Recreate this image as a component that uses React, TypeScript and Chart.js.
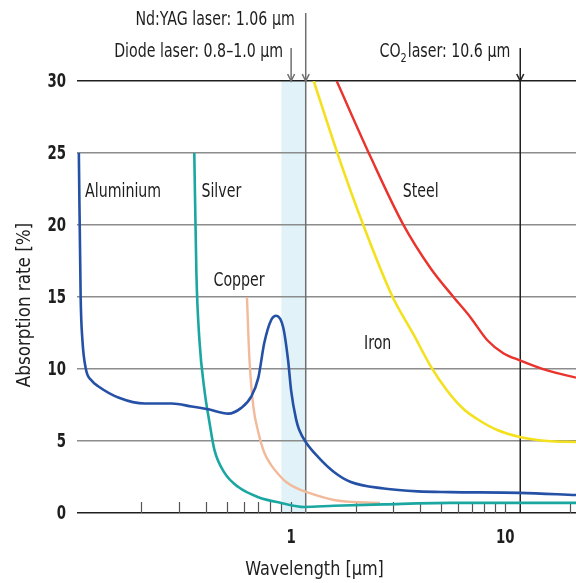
import React, { useEffect, useRef } from 'react';
import { Chart, registerables } from 'chart.js';

Chart.register(...registerables);

const FONT = '"DejaVu Sans Condensed", "DejaVu Sans", sans-serif';

// ---- data ----
const yTickValues = [0, 5, 10, 15, 20, 25, 30];
const xTickLabels = [1, 10];
const minorTicks = [0.2, 0.3, 0.4, 0.5, 0.6, 0.7, 0.8, 0.9, 1, 2, 3, 4, 5, 6, 7, 8, 9, 10, 20];

const alX = [0.102, 0.104, 0.106, 0.11, 0.117, 0.127, 0.157, 0.207, 0.277, 0.343, 0.411, 0.509, 0.585, 0.652, 0.703, 0.749, 0.807, 0.852, 0.918, 0.968, 1.0, 1.055, 1.089, 1.174, 1.335, 1.585, 1.9, 2.71, 3.9, 5.55, 11.7, 21.4];
const alY = [25, 15, 12, 10, 9.2, 8.75, 8.0, 7.6, 7.6, 7.4, 7.2, 6.9, 7.3, 8.1, 9.4, 11.8, 13.4, 13.7, 12.9, 10.6, 8.5, 6.5, 5.8, 4.9, 3.9, 2.85, 2.15, 1.7, 1.5, 1.45, 1.4, 1.25];

const agX = [0.353, 0.361, 0.373, 0.394, 0.416, 0.438, 0.488, 0.567, 0.703, 0.898, 1.15, 1.585, 2.71, 5.55, 21.4];
const agY = [25, 16.7, 12, 8.5, 6.25, 4.4, 2.8, 1.8, 1.1, 0.7, 0.42, 0.5, 0.6, 0.7, 0.7];

const cuX = [0.622, 0.638, 0.666, 0.703, 0.749, 0.807, 0.87, 0.948, 1.055, 1.174, 1.585, 1.96, 2.6];
const cuY = [15, 10.8, 7.4, 5.6, 4.2, 3.33, 2.71, 2.15, 1.74, 1.46, 0.9, 0.76, 0.7];

const steelX = [1.632, 2.355, 3.32, 4.48, 5.73, 6.87, 8.25, 9.79, 11.7, 15.7, 21.4];
const steelY = [30, 24.7, 20.1, 17.0, 15.0, 13.6, 12.0, 11.1, 10.6, 9.9, 9.4];

const ironX = [1.275, 1.67, 2.16, 2.98, 3.73, 4.48, 5.37, 6.38, 7.65, 9.18, 11.7, 15.7, 21.4];
const ironY = [30, 24.7, 20.1, 15.0, 12.4, 10.2, 8.47, 7.22, 6.39, 5.76, 5.28, 5.0, 4.93];

const diodeBand = [0.9, 1.17];
const ndYagLine = 1.17;
const diodeArrow = 1.0;
const co2Line = 11.75;

const curveNames = ['Aluminium', 'Silver', 'Copper', 'Steel', 'Iron'];
const curveLabelX = [0.109, 0.381, 0.434, 3.32, 2.19];
const curveLabelY = [22.3, 22.3, 16.1, 22.3, 11.7];

const SX = 0.83;

export default function App() {
  const ref = useRef<HTMLCanvasElement>(null);

  useEffect(() => {
    if (!ref.current) return;
    const pts = (xs: number[], ys: number[]) => xs.map((x, i) => ({ x, y: ys[i] }));

    const arrow = (ctx: CanvasRenderingContext2D, x: number, y: number) => {
      ctx.beginPath();
      ctx.moveTo(x - 3.5, y - 7);
      ctx.lineTo(x, y);
      ctx.lineTo(x + 3.5, y - 7);
      ctx.stroke();
    };

    const txt = (
      ctx: CanvasRenderingContext2D,
      s: string,
      x: number,
      y: number,
      font: string,
      align: CanvasTextAlign,
      sx: number,
      rot = 0
    ) => {
      ctx.save();
      ctx.font = font;
      ctx.textAlign = align;
      ctx.textBaseline = 'middle';
      ctx.translate(x, y);
      if (rot) ctx.rotate(rot);
      ctx.scale(sx, 1);
      ctx.fillText(s, 0, 0);
      ctx.restore();
    };

    const overlay = {
      id: 'overlay',
      beforeDraw(chart: any) {
        const { ctx, scales } = chart;
        const x = scales.x, y = scales.y;
        const x0 = x.getPixelForValue(diodeBand[0]);
        const x1 = x.getPixelForValue(diodeBand[1]);
        const yt = y.getPixelForValue(30), yb = y.getPixelForValue(0);
        ctx.save();
        ctx.fillStyle = '#e1f3f8';
        ctx.fillRect(x0, yt, x1 - x0, yb - yt);
        ctx.restore();
      },
      beforeDatasetsDraw(chart: any) {
        const { ctx, scales } = chart;
        const x = scales.x, y = scales.y;
        const yt = y.getPixelForValue(30), yb = y.getPixelForValue(0);
        ctx.save();
        ctx.strokeStyle = '#555';
        ctx.lineWidth = 1.2;
        minorTicks.forEach((v) => {
          const px = Math.round(x.getPixelForValue(v)) + 0.5;
          ctx.beginPath();
          ctx.moveTo(px, yb);
          ctx.lineTo(px, yb - 11);
          ctx.stroke();
        });
        const nx = x.getPixelForValue(ndYagLine);
        ctx.strokeStyle = '#6f6f6f';
        ctx.lineWidth = 1.5;
        ctx.beginPath();
        ctx.moveTo(nx, 13);
        ctx.lineTo(nx, yb);
        ctx.stroke();
        arrow(ctx, nx, yt);
        const dx = x.getPixelForValue(diodeArrow);
        ctx.beginPath();
        ctx.moveTo(dx, 48);
        ctx.lineTo(dx, yt);
        ctx.stroke();
        arrow(ctx, dx, yt);
        const cx = x.getPixelForValue(co2Line);
        ctx.strokeStyle = '#222';
        ctx.beginPath();
        ctx.moveTo(cx, 48);
        ctx.lineTo(cx, yb);
        ctx.stroke();
        arrow(ctx, cx, yt);
        ctx.restore();
      },
      afterDraw(chart: any) {
        const { ctx, scales, chartArea } = chart;
        const x = scales.x, y = scales.y;
        ctx.save();
        ctx.fillStyle = '#1e1e1e';
        const F19 = `19px ${FONT}`;
        const FB = `bold 20px ${FONT}`;
        yTickValues.forEach((v) => {
          txt(ctx, String(v), chartArea.left - 11, y.getPixelForValue(v) + 1, FB, 'right', 0.74);
        });
        xTickLabels.forEach((v) => {
          txt(ctx, String(v), x.getPixelForValue(v), 538, FB, 'center', 0.74);
        });
        txt(ctx, 'Wavelength [µm]', (chartArea.left + chartArea.right) / 2 - 12, 570, F19, 'center', 0.94);
        txt(ctx, 'Absorption rate [%]', 25, 305, F19, 'center', 0.98, -Math.PI / 2);
        curveNames.forEach((n, i) => {
          txt(ctx, n, x.getPixelForValue(curveLabelX[i]), y.getPixelForValue(curveLabelY[i]), F19, 'left', SX);
        });
        txt(ctx, 'Nd:YAG laser: 1.06 µm', x.getPixelForValue(ndYagLine) - 11, 20, F19, 'right', SX);
        txt(ctx, 'Diode laser: 0.8–1.0 µm', x.getPixelForValue(diodeArrow) - 8, 52, F19, 'right', SX);
        const rest = 'laser: 10.6 µm';
        const endX = x.getPixelForValue(co2Line) - 10;
        ctx.font = F19;
        const wRest = ctx.measureText(rest).width * SX;
        const wCO = ctx.measureText('CO').width * SX;
        ctx.font = `13px ${FONT}`;
        const wSub = ctx.measureText('2').width * SX;
        const startX = endX - wRest - wSub - wCO - 1;
        txt(ctx, 'CO', startX, 52, F19, 'left', SX);
        txt(ctx, '2', startX + wCO, 59, `13px ${FONT}`, 'left', SX);
        txt(ctx, rest, startX + wCO + wSub + 1, 52, F19, 'left', SX);
        ctx.restore();
      },
    };

    const chart = new Chart(ref.current, {
      type: 'line',
      data: {
        datasets: [
          { label: 'Aluminium', data: pts(alX, alY), borderColor: '#2450a6', borderWidth: 2.6, order: 1 },
          { label: 'Silver', data: pts(agX, agY), borderColor: '#1aa7a1', borderWidth: 2.6, order: 2 },
          { label: 'Copper', data: pts(cuX, cuY), borderColor: '#f2ba9b', borderWidth: 2.4, order: 3 },
          { label: 'Steel', data: pts(steelX, steelY), borderColor: '#e9332c', borderWidth: 2.4, order: 4 },
          { label: 'Iron', data: pts(ironX, ironY), borderColor: '#f4e11e', borderWidth: 2.6, order: 5 },
        ],
      },
      options: {
        animation: false,
        responsive: true,
        maintainAspectRatio: false,
        layout: { padding: { top: 81, right: 0, bottom: 0, left: 0 } },
        elements: {
          point: { radius: 0 },
          line: { cubicInterpolationMode: 'monotone', fill: false },
        },
        plugins: { legend: { display: false }, tooltip: { enabled: false } },
        scales: {
          x: {
            type: 'logarithmic',
            min: 0.1,
            max: 21.4,
            afterBuildTicks: (s: any) => {
              s.ticks = xTickLabels.map((v) => ({ value: v }));
            },
            afterFit: (s: any) => {
              s.height = 70;
            },
            ticks: { display: false },
            grid: { display: false, drawTicks: false },
            border: { display: false },
          },
          y: {
            min: 0,
            max: 30,
            afterBuildTicks: (s: any) => {
              s.ticks = yTickValues.map((v) => ({ value: v }));
            },
            afterFit: (s: any) => {
              s.width = 77;
            },
            ticks: { display: false },
            grid: {
              drawTicks: false,
              lineWidth: 1.5,
              color: (c: any) => (c.tick && (c.tick.value === 0 || c.tick.value === 30) ? '#1e1e1e' : '#8c8c8c'),
            },
            border: { display: false },
          },
        },
      },
      plugins: [overlay],
    } as any);

    return () => chart.destroy();
  }, []);

  return (
    <div style={{ position: 'fixed', left: 0, top: 0, width: 576, height: 583, background: '#fff' }}>
      <canvas ref={ref} />
    </div>
  );
}
